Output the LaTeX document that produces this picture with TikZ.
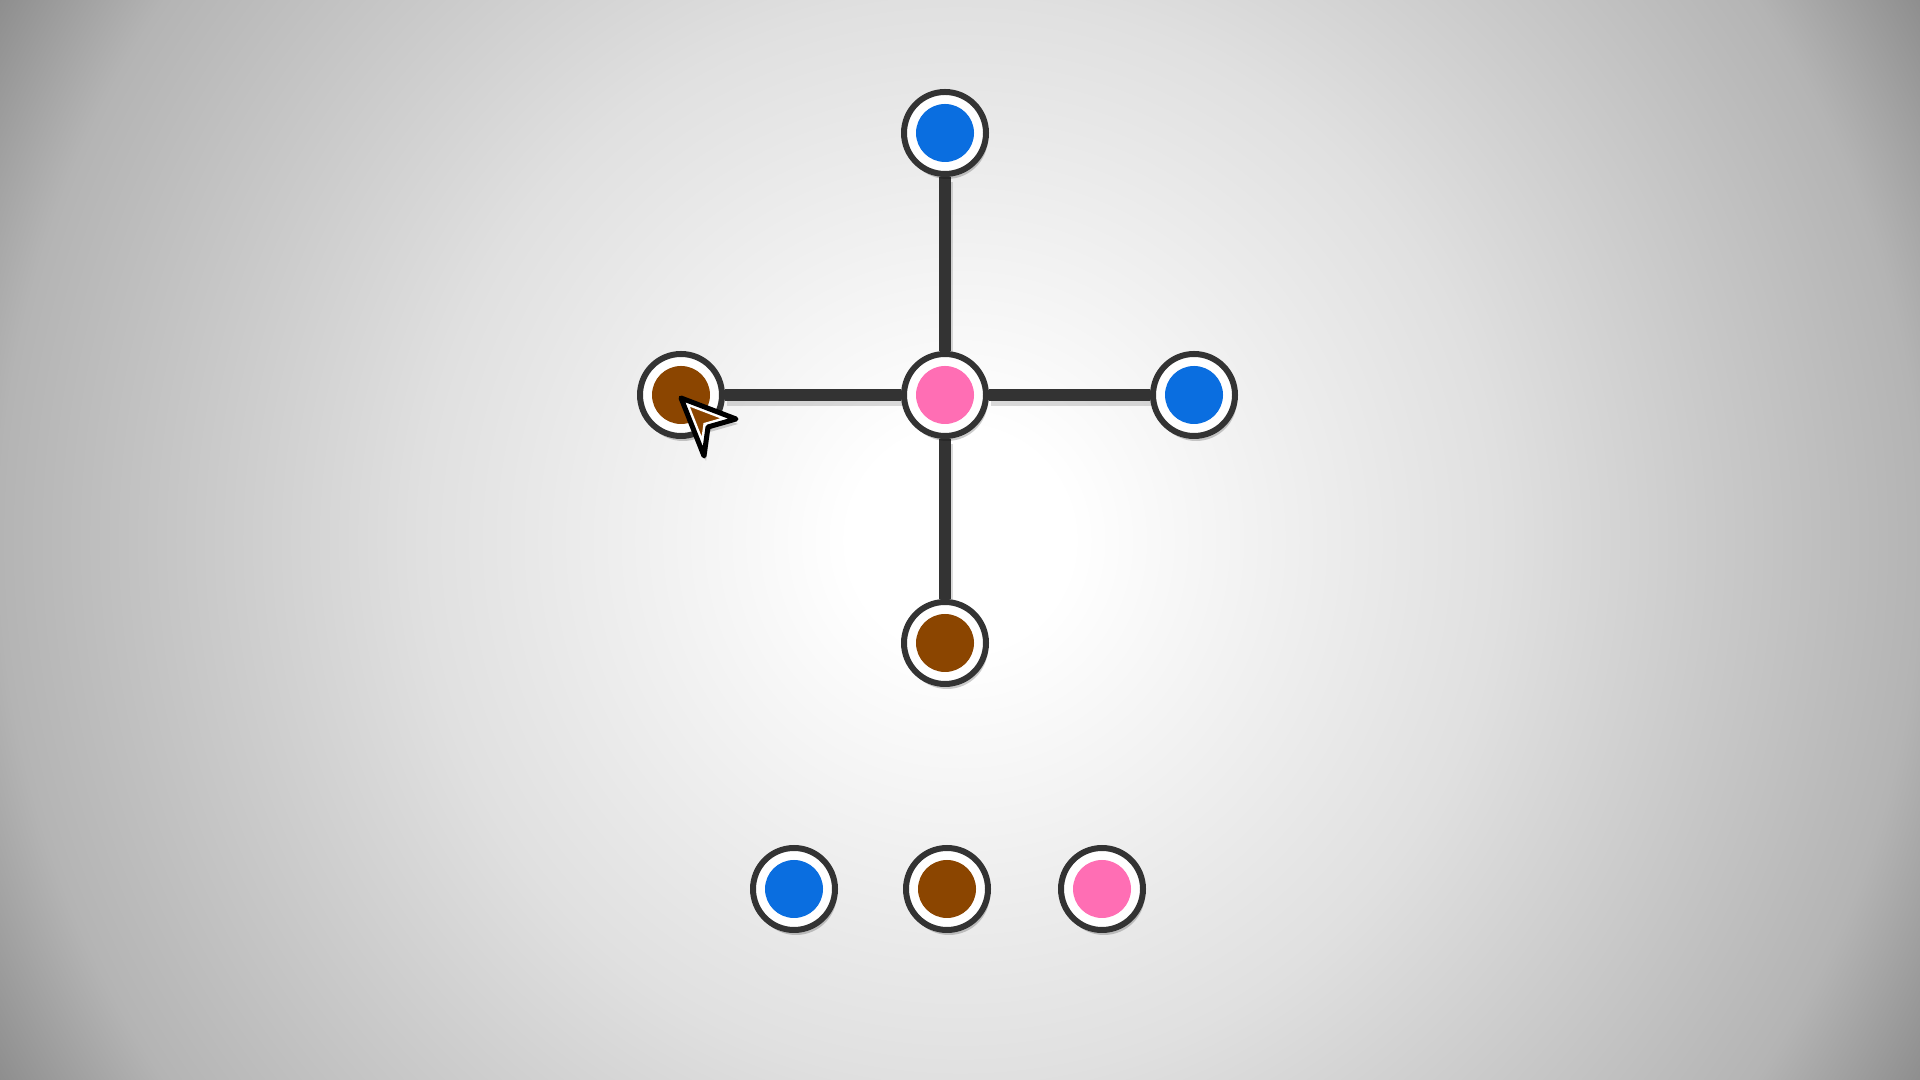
\documentclass[tikz,border=0pt]{standalone}
\usepackage{tikz}
\usetikzlibrary{shadows}
\definecolor{ringgray}{HTML}{333333}
\definecolor{dotblue}{HTML}{0A6EE0}
\definecolor{dotbrown}{HTML}{8B4500}
\definecolor{dotpink}{HTML}{FF6EB4}
\definecolor{bgmid}{HTML}{E0E0E0}
\definecolor{bgside}{HTML}{B4B4B4}
\definecolor{bgcorner}{HTML}{8E8E8E}
\pgfdeclareradialshading{bgglow}{\pgfpoint{0bp}{0bp}}{color(0bp)=(white); color(2.5bp)=(white); color(12.25bp)=(bgmid); color(21.8bp)=(bgside); color(25bp)=(bgcorner); color(50bp)=(bgcorner)}
\pgfdeclarelayer{back}
\pgfdeclarelayer{links}
\pgfsetlayers{back,links,main}

\begin{document}
\begin{tikzpicture}[
	ring/.style={circle,draw=ringgray,line width=0.06cm,fill=white,minimum size=0.82cm,inner sep=0pt,
		drop shadow={shadow xshift=0.02cm,shadow yshift=-0.05cm,fill=black,opacity=0.2},
		path picture={\fill[#1] (path picture bounding box.center) circle (0.29cm);}},
	link/.style={draw=ringgray,line width=0.12cm},
	linkshade/.style={draw=black,opacity=0.14,line width=0.12cm,transform canvas={shift={(0.02,-0.05)}}}
]
	\useasboundingbox (0,0) rectangle (19.2,10.8);
	\begin{pgfonlayer}{back}
		\begin{scope}
			\clip (0,0) rectangle (19.2,10.8);
			\shade[shading=bgglow] (9.6,5.4) circle (11.02);
		\end{scope}
	\end{pgfonlayer}
	% the cross
	\node[ring=dotpink] (hub) at (9.45,6.85) {};
	\node[ring=dotblue] (up) at (9.45,9.47) {};
	\node[ring=dotbrown] (west) at (6.81,6.85) {};
	\node[ring=dotblue] (east) at (11.94,6.85) {};
	\node[ring=dotbrown] (down) at (9.45,4.37) {};
	\begin{pgfonlayer}{links}
		\foreach \a in {up,west,east,down}
		{
			\draw[linkshade] (hub) -- (\a);
			\draw[link] (hub) -- (\a);
		}
	\end{pgfonlayer}
	% the row below
	\foreach \x/\c [count=\i] in {7.94/dotblue,9.47/dotbrown,11.02/dotpink}
	{
		\node[ring=\c] (pick\i) at (\x,1.91) {};
	}
	% cursor
	\coordinate (tip) at (6.81,6.82);
	\coordinate (wing) at (7.36,6.61);
	\coordinate (notch) at (7.08,6.53);
	\coordinate (tail) at (7.04,6.24);
	\fill[black,opacity=0.18,transform canvas={shift={(0.02,-0.05)}}] (tip) -- (wing) -- (notch) -- (tail) -- cycle;
	\fill[dotbrown] (tip) -- (wing) -- (notch) -- (tail) -- cycle;
	\begin{scope}
		\clip (tip) -- (wing) -- (notch) -- (tail) -- cycle;
		\draw[white,line width=0.1cm] (tip) -- (wing) -- (notch) -- (tail) -- cycle;
	\end{scope}
	\draw[black,line width=0.05cm,line join=round] (tip) -- (wing) -- (notch) -- (tail) -- cycle;
\end{tikzpicture}
\end{document}
